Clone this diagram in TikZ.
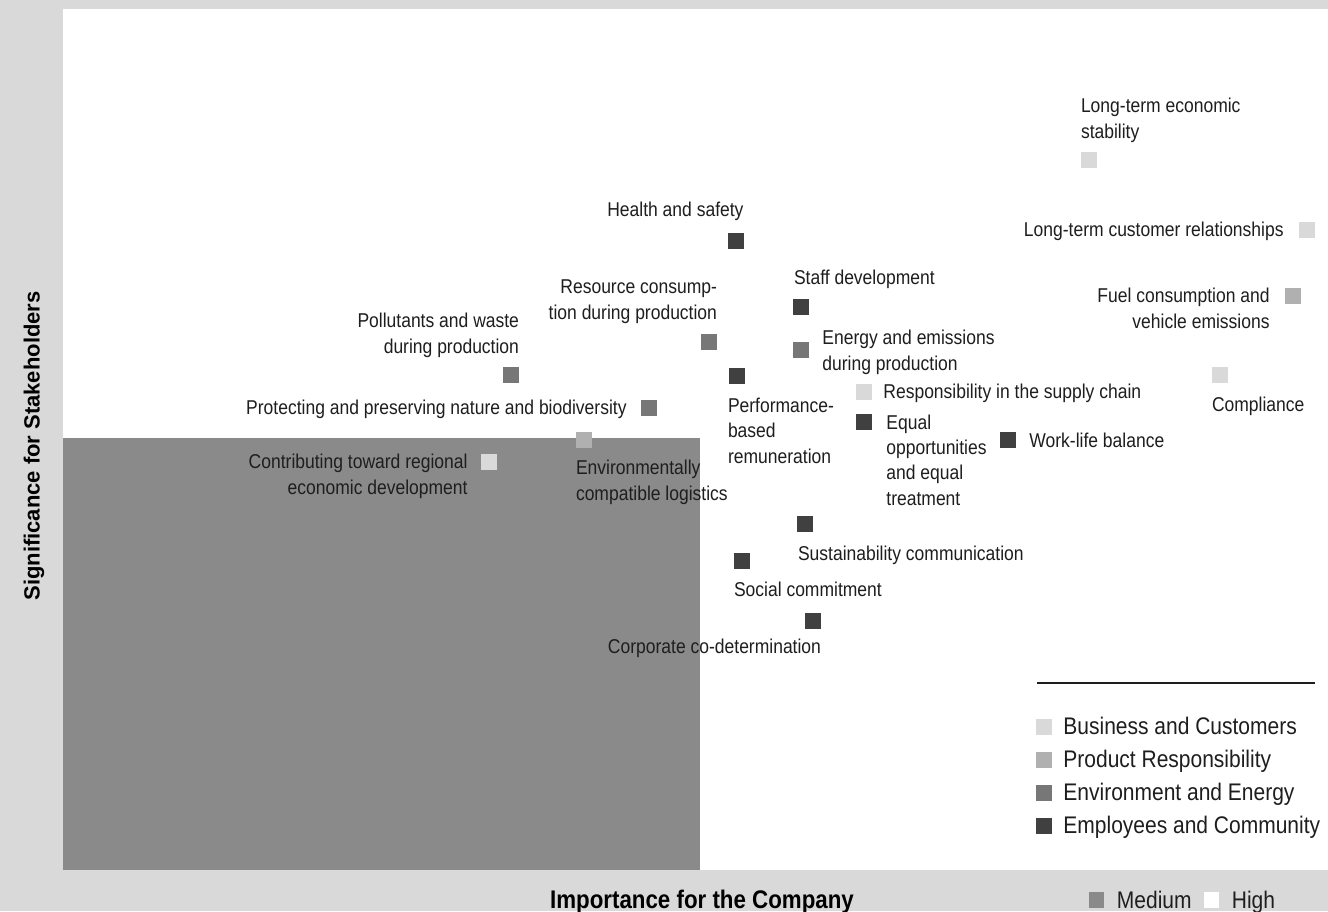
\documentclass[tikz,border=0pt]{standalone}
\usepackage{fontspec}
\setmainfont[FakeStretch=0.875]{Liberation Sans}
\newfontfamily\wideaxis{Liberation Sans}
\definecolor{bgGray}{HTML}{D9D9D9}
\definecolor{quadGray}{HTML}{8A8A8A}
\definecolor{catBusiness}{HTML}{D9D9D9}
\definecolor{catProduct}{HTML}{B0B0B0}
\definecolor{catEnv}{HTML}{777777}
\definecolor{catStaff}{HTML}{404040}
\definecolor{inkDark}{HTML}{1E1E1E}
\tikzset{
	marker/.style={rectangle, minimum width=16pt, minimum height=16pt, inner sep=0pt, fill=#1},
	topic/.style={font=\fontsize{20}{25.3}\selectfont, text=inkDark, inner sep=0pt},
	legendtext/.style={font=\fontsize{24}{28}\selectfont, text=inkDark, inner sep=0pt, anchor=base west},
}
\begin{document}
\begin{tikzpicture}[x=1pt, y=-1pt]
	\useasboundingbox (0,0) rectangle (1328,911);
	\fill[bgGray] (0,0) rectangle (1328,911);
	\fill[white] (63,9) rectangle (1328,870);
	\fill[quadGray] (63,438) rectangle (700,870);

	% markers
	\node[marker=catBusiness] (LES) at (1089,160) {};
	\node[marker=catBusiness] (LCR) at (1307,230) {};
	\node[marker=catProduct] (FCE) at (1293,296) {};
	\node[marker=catBusiness] (CMP) at (1220,375) {};
	\node[marker=catStaff] (HAS) at (735.5,241) {};
	\node[marker=catEnv] (RCP) at (709,342) {};
	\node[marker=catStaff] (STD) at (801,307) {};
	\node[marker=catEnv] (EEP) at (801,350) {};
	\node[marker=catEnv] (PWP) at (511,375) {};
	\node[marker=catStaff] (PBR) at (737,376) {};
	\node[marker=catBusiness] (RSC) at (864,392) {};
	\node[marker=catEnv] (PPN) at (649,408) {};
	\node[marker=catStaff] (EOT) at (864,422) {};
	\node[marker=catStaff] (WLB) at (1008,440) {};
	\node[marker=catProduct] (ECL) at (584,440) {};
	\node[marker=catBusiness] (CRE) at (489,462) {};
	\node[marker=catStaff] (SCO) at (805,524) {};
	\node[marker=catStaff] (SCM) at (742,561) {};
	\node[marker=catStaff] (CCD) at (813,621) {};

	% labels
	\node[topic, anchor=base west, align=left] at ([yshift=22pt]LES.west) (LESlab) {Long-term economic\\stability};
	\node[topic, anchor=base east] at ([xshift=-15pt,yshift=-6pt]LCR.west) (LCRlab) {Long-term customer relationships};
	\node[topic, anchor=base east, align=right] at ([xshift=-15pt,yshift=-32pt]FCE.west) (FCElab) {Fuel consumption and\\vehicle emissions};
	\node[topic, anchor=base west] at ([yshift=-36pt]CMP.west) (CMPlab) {Compliance};
	\node[topic, anchor=base east] at ([yshift=25pt]HAS.east) (HASlab) {Health and safety};
	\node[topic, anchor=base east, align=right] at ([yshift=23pt]RCP.east) (RCPlab) {Resource consump-\\tion during production};
	\node[topic, anchor=base west] at ([xshift=1pt,yshift=23pt]STD.west) (STDlab) {Staff development};
	\node[topic, anchor=base west, align=left] at ([xshift=13pt,yshift=-20pt]EEP.east) (EEPlab) {Energy and emissions\\during production};
	\node[topic, anchor=base east, align=right] at ([yshift=22pt]PWP.east) (PWPlab) {Pollutants and waste\\during production};
	\node[topic, anchor=base west, align=left] at ([xshift=-1pt,yshift=-87pt]PBR.west) (PBRlab) {Performance-\\based\\remuneration};
	\node[topic, anchor=base west] at ([xshift=11pt,yshift=-6pt]RSC.east) (RSClab) {Responsibility in the supply chain};
	\node[topic, anchor=base east] at ([xshift=-14pt,yshift=-6pt]PPN.west) (PPNlab) {Protecting and preserving nature and biodiversity};
	\node[topic, anchor=base west, align=left] at ([xshift=14pt,yshift=-83pt]EOT.east) (EOTlab) {Equal\\opportunities\\and equal\\treatment};
	\node[topic, anchor=base west] at ([xshift=13pt,yshift=-7pt]WLB.east) (WLBlab) {Work-life balance};
	\node[topic, anchor=base west, align=left] at ([yshift=-60pt]ECL.west) (ECLlab) {Environmentally\\compatible logistics};
	\node[topic, anchor=base east, align=right] at ([xshift=-13pt,yshift=-32pt]CRE.west) (CRElab) {Contributing toward regional\\economic development};
	\node[topic, anchor=base west] at ([xshift=1pt,yshift=-36pt]SCO.west) (SCOlab) {Sustainability communication};
	\node[topic, anchor=base west] at ([yshift=-35pt]SCM.west) (SCMlab) {Social commitment};
	\node[topic, anchor=base east] at ([yshift=-32pt]CCD.east) (CCDlab) {Corporate co-determination};

	% legend
	\coordinate (LG1) at (1037,683);
	\coordinate (LG2) at (1315,683);
	\draw[inkDark, line width=1.2pt] (LG1) -- (LG2);
	\node[marker=catBusiness] (K1) at (1044,727) {};
	\node[marker=catProduct] (K2) at (1044,760) {};
	\node[marker=catEnv] (K3) at (1044,793) {};
	\node[marker=catStaff] (K4) at (1044,826) {};
	\node[legendtext] at ([xshift=11pt,yshift=-7pt]K1.east) (K1lab) {Business and Customers};
	\node[legendtext] at ([xshift=11pt,yshift=-7pt]K2.east) (K2lab) {Product Responsibility};
	\node[legendtext] at ([xshift=11pt,yshift=-7pt]K3.east) (K3lab) {Environment and Energy};
	\node[legendtext] at ([xshift=11pt,yshift=-7pt]K4.east) (K4lab) {Employees and Community};

	% axes
	\node[font=\fontsize{25.5}{28}\selectfont\bfseries, text=black, inner sep=0pt, anchor=base] (XAX) at (702,908) {Importance for the Company};
	\node[font=\wideaxis\fontsize{22}{24}\selectfont\bfseries, text=black, inner sep=0pt, rotate=90] (YAX) at (34,446) {Significance for Stakeholders};
	\node[marker=quadGray, minimum width=15pt] (MED) at (1096,900) {};
	\node[legendtext] at ([xshift=13pt,yshift=-8pt]MED.east) (MEDlab) {Medium};
	\node[marker=white, minimum width=15pt] (HIG) at (1211,900) {};
	\node[legendtext] at ([xshift=13pt,yshift=-8pt]HIG.east) (HIGlab) {High};
\end{tikzpicture}
\end{document}
